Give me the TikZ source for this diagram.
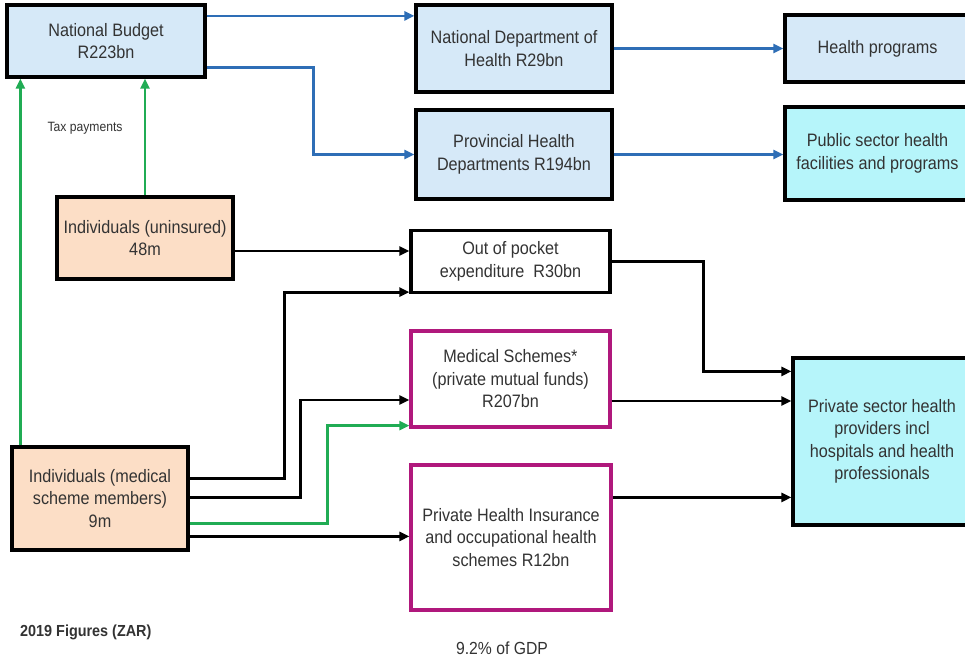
\documentclass[tikz,border=0pt]{standalone}
\usepackage{fontspec}
\setmainfont{Liberation Sans}[FakeStretch=0.9]
\usetikzlibrary{arrows.meta}

\definecolor{budgetblue}{RGB}{214,233,248}
\definecolor{publiccyan}{RGB}{182,245,250}
\definecolor{peach}{RGB}{252,222,198}
\definecolor{schemepink}{RGB}{176,24,124}
\definecolor{flowblue}{RGB}{46,110,182}
\definecolor{taxgreen}{RGB}{32,172,84}
\definecolor{ink}{RGB}{51,51,51}

\begin{document}
\begin{tikzpicture}[x=1pt,y=-1pt,
  box/.style={rectangle, draw=black, line width=3.2pt, inner sep=0pt,
    align=center, text=ink, font=\fontsize{18}{22.5}\selectfont},
  govbox/.style={box, fill=budgetblue},
  publicbox/.style={box, fill=publiccyan},
  peoplebox/.style={box, fill=peach},
  cashbox/.style={box, fill=white},
  schemebox/.style={box, draw=schemepink, fill=white},
  tip/.style={-{Triangle[length=10pt,width=9pt]}},
  blueflow/.style={tip, draw=flowblue, line width=2.7pt},
  blackflow/.style={tip, draw=black, line width=2.8pt},
  greenflow/.style={tip, draw=taxgreen, line width=2.3pt},
  note/.style={text=ink, inner sep=0pt}
]
\useasboundingbox (0,0) rectangle (965,659);
\fill[white] (0,0) rectangle (965,659);

% government side
\node[govbox, minimum width=198pt, minimum height=72pt] (nb) at (106,41)
  {National Budget\\R223bn};
\node[govbox, minimum width=196pt, minimum height=87pt] (ndoh) at (514,48.5)
  {National Department of\\Health R29bn};
\node[govbox, minimum width=196pt, minimum height=89pt] (phd) at (514,154.5)
  {Provincial Health\\Departments R194bn};
\node[govbox, minimum width=185pt, minimum height=67pt] (hp) at (877.5,48.5)
  {Health programs};
\node[publicbox, minimum width=185pt, minimum height=93pt] (ps) at (877.5,153.5)
  {Public sector health\\facilities and programs};

% households
\node[peoplebox, minimum width=176pt, minimum height=82pt] (indu) at (145,238)
  {Individuals (uninsured)\\48m};
\node[peoplebox, minimum width=176pt, minimum height=103pt] (indm) at (100,498.5)
  {Individuals (medical\\scheme members)\\9m};

% private financing
\node[cashbox, minimum width=199pt, minimum height=62pt] (oop) at (510.5,261.5)
  {Out of pocket\\expenditure\ \ R30bn};
\node[schemebox, minimum width=199pt, minimum height=96pt] (ms) at (510.5,379)
  {Medical Schemes*\\(private mutual funds)\\R207bn};
\node[schemebox, minimum width=200pt, minimum height=145pt] (phi) at (511,537.5)
  {Private Health Insurance\\and occupational health\\schemes R12bn};
\node[publicbox, minimum width=178pt, minimum height=167pt] (psp) at (882,441.5)
  {Private sector health\\providers incl\\hospitals and health\\professionals};

% public money
\draw[blueflow] ([yshift=-12.5pt]nb.north east) -- ([yshift=-12.5pt]nb.north east -| ndoh.west);
\draw[blueflow] ([yshift=11pt]nb.south east) -- ++(107,0) |- (phd.west);
\draw[blueflow] (ndoh.east) -- (ndoh.east -| hp.west);
\draw[blueflow] (phd.east) -- (phd.east -| ps.west);

% tax payments
\draw[greenflow] ([xshift=10pt]indm.north west) -- ([xshift=10pt]indm.north west |- nb.south);
\draw[greenflow] (indu.north) -- (indu.north |- nb.south);
\node[note, font=\fontsize{13.5}{15}\selectfont] (tax) at (85,128) {Tax payments};

% household spending
\draw[blackflow] ([yshift=-13pt]indu.east) -- ([yshift=-13pt]indu.east -| oop.west);
\draw[blackflow] ([yshift=-33pt]indm.north east) -- ++(95,0) |- ([yshift=2pt]oop.south west);
\draw[blackflow] ([yshift=-52pt]indm.north east) -- ++(111,0) |- ([yshift=-21pt]ms.west);
\draw[greenflow] ([yshift=-78pt]indm.north east) -- ++(138,0) |- ([yshift=3pt]ms.south west);
\draw[blackflow] ([yshift=-91pt]indm.north east) -- ([yshift=-91pt]indm.north east -| phi.west);

% payments to private providers
\draw[blackflow] (oop.east) -- ++(92,0) |- ([yshift=-15pt]psp.north west);
\draw[blackflow] ([yshift=-22pt]ms.east) -- ([yshift=-22pt]ms.east -| psp.west);
\draw[blackflow] ([yshift=-34pt]phi.north east) -- ([yshift=-34pt]phi.north east -| psp.west);

% footnotes
\node[note, anchor=west, font=\bfseries\fontsize{16}{18}\selectfont] (year) at (20,632) {2019 Figures (ZAR)};
\node[note, font=\fontsize{17.5}{20}\selectfont] (gdp) at (502,648) {9.2\% of GDP};
\end{tikzpicture}
\end{document}
